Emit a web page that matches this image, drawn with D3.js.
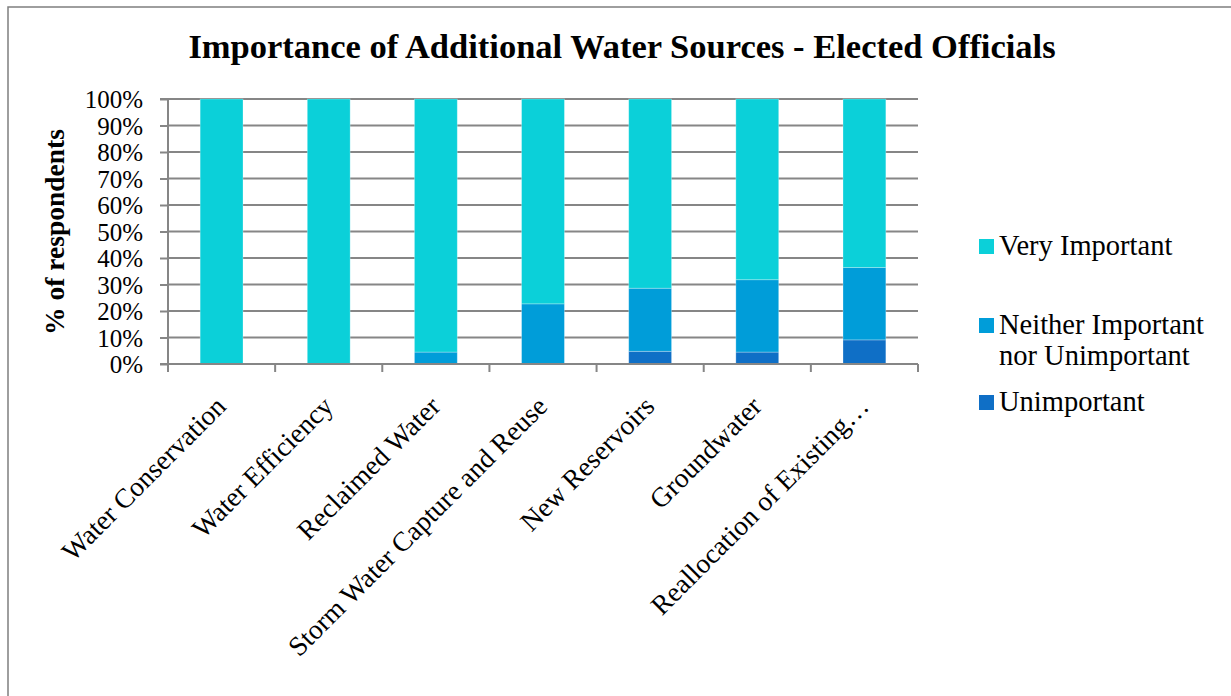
<!DOCTYPE html>
<html><head><meta charset="utf-8">
<script src="https://cdn.jsdelivr.net/npm/d3@7"></script>
<style>body{margin:0;background:#fff}svg{display:block}</style>
</head><body>
<script>
const categories = ["Water Conservation","Water Efficiency","Reclaimed Water","Storm Water Capture and Reuse","New Reservoirs","Groundwater","Reallocation of Existing…"];
const unimportant = [0, 0, 0, 0, 4.8, 4.5, 9.1];
const neither = [0, 0, 4.5, 22.7, 23.8, 27.3, 27.3];
const veryImportant = [100, 100, 95.5, 77.3, 71.4, 68.2, 63.6];
const seriesNames = ["Unimportant","Neither Important nor Unimportant","Very Important"];
const seriesColors = ["#0F6FC6","#009DD9","#0BD0D9"];
const yTicks = [0,10,20,30,40,50,60,70,80,90,100];

const W = 1231, H = 696;
const svg = d3.select("body").append("svg").attr("width", W).attr("height", H);
const font = "'Liberation Serif', serif";

// frame
svg.append("rect").attr("x", 8).attr("y", 7).attr("width", 1240).attr("height", 720)
  .attr("fill", "none").attr("stroke", "#7f7f7f").attr("stroke-width", 1.5);

const x0 = 168, x1 = 918, yTop = 99, yBot = 364;
const x = d3.scaleBand().domain(categories).range([x0, x1]).paddingInner(0.6).paddingOuter(0.3);
const xb = d3.scaleBand().domain(categories).range([x0, x1]);
const y = d3.scaleLinear().domain([0, 100]).range([yBot, yTop]);

const data = categories.map((c, i) => ({cat: c, "Unimportant": unimportant[i], "Neither Important nor Unimportant": neither[i], "Very Important": veryImportant[i]}));
const stack = d3.stack().keys(seriesNames)(data);

// gridlines
svg.append("g").selectAll("line").data(yTicks.filter(d => d > 0)).join("line")
  .attr("x1", x0).attr("x2", x1).attr("y1", d => y(d)).attr("y2", d => y(d))
  .attr("stroke", "#868686").attr("stroke-width", 2);

// bars
svg.append("g").selectAll("g").data(stack).join("g")
  .attr("fill", (d, i) => seriesColors[i])
  .selectAll("rect").data(d => d).join("rect")
  .attr("x", d => x(d.data.cat)).attr("width", x.bandwidth())
  .attr("y", d => y(d[1])).attr("height", d => Math.max(0, y(d[0]) - y(d[1])))
  .attr("stroke", "rgba(255,255,255,0.35)").attr("stroke-width", 0.8);

// y axis
const yAxis = d3.axisLeft(y).tickValues(yTicks).tickFormat(d => d + "%").tickSize(8).tickPadding(17);
const gy = svg.append("g").attr("transform", `translate(${x0},0)`).call(yAxis);
gy.select(".domain").attr("stroke", "#868686").attr("stroke-width", 2).attr("d", `M-8,${yTop}H0V${yBot}H-8`);
gy.selectAll(".tick line").attr("stroke", "#868686").attr("stroke-width", 2);
gy.selectAll(".tick text").attr("font-family", font).attr("font-size", 25).attr("fill", "#000").attr("dy", "0.35em");

// x axis
svg.append("line").attr("x1", x0).attr("x2", x1).attr("y1", yBot).attr("y2", yBot).attr("stroke", "#868686").attr("stroke-width", 2);
const bounds = categories.map(c => xb(c)).concat([x1]);
svg.append("g").selectAll("line").data(bounds).join("line")
  .attr("x1", d => d).attr("x2", d => d).attr("y1", yBot).attr("y2", yBot + 8)
  .attr("stroke", "#868686").attr("stroke-width", 2);

svg.append("g").selectAll("text").data(categories).join("text")
  .attr("transform", d => `translate(${xb(d) + xb.bandwidth()/2 + 6},${yBot + 44}) rotate(-45)`)
  .attr("text-anchor", "end").attr("font-family", font).attr("font-size", 27.5).attr("fill", "#000")
  .text(d => d);

// y title
svg.append("text").attr("transform", `translate(64,232) rotate(-90)`).attr("text-anchor", "middle")
  .attr("font-family", font).attr("font-weight", "bold").attr("font-size", 27.5).text("% of respondents");

// title
svg.append("text").attr("x", 622).attr("y", 58).attr("text-anchor", "middle")
  .attr("font-family", font).attr("font-weight", "bold").attr("font-size", 34.5)
  .text("Importance of Additional Water Sources - Elected Officials");

// legend
const legendItems = [
  {name: "Very Important", lines: ["Very Important"], color: seriesColors[2], y: 246},
  {name: "Neither Important nor Unimportant", lines: ["Neither Important", "nor Unimportant"], color: seriesColors[1], y: 325},
  {name: "Unimportant", lines: ["Unimportant"], color: seriesColors[0], y: 402}
];
const lg = svg.append("g").selectAll("g").data(legendItems).join("g");
lg.append("rect").attr("x", 979).attr("y", d => d.y - 7).attr("width", 15).attr("height", 15).attr("fill", d => d.color);
lg.each(function(d) {
  const t = d3.select(this).append("text").attr("font-family", font).attr("font-size", 28.5).attr("fill", "#000");
  d.lines.forEach((l, i) => t.append("tspan").attr("x", 999).attr("y", d.y + 9 + i * 31).text(l));
});
</script>
</body></html>
